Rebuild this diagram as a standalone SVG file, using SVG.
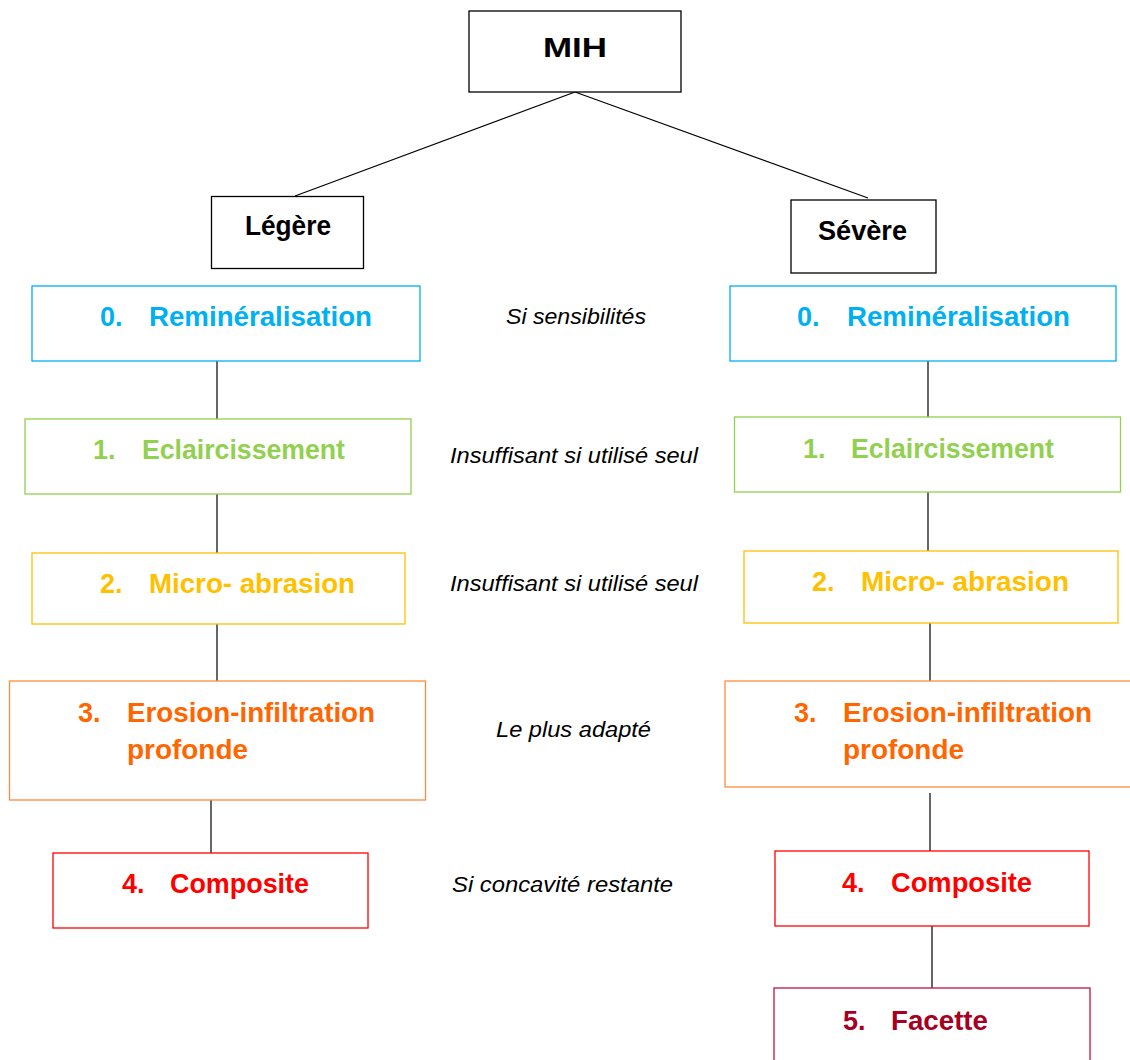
<svg xmlns="http://www.w3.org/2000/svg" width="1130" height="1060" viewBox="0 0 1130 1060">
  <style>
    .box { fill: #ffffff; stroke-width: 1.3; }
    .head { stroke: #000000; }
    .lbl { font-family: "Liberation Sans", Arial, sans-serif; font-weight: bold; font-size: 27px; }
    .big { font-size: 28px; }
    .note { font-family: "Liberation Sans", Arial, sans-serif; font-style: italic; font-size: 22px; fill: #000000; }
    .c0 { stroke: #00B0F0; } .t0 { fill: #00B0F0; }
    .c1 { stroke: #92D050; } .t1 { fill: #92D050; }
    .c2 { stroke: #FFC000; } .t2 { fill: #FFC000; }
    .c3 { stroke: #FF8C3C; } .t3 { fill: #FF6600; }
    .c4 { stroke: #FF0000; } .t4 { fill: #FF0000; }
    .c5 { stroke: #C0143C; } .t5 { fill: #A50021; }
    .link { stroke: #000000; stroke-width: 1.2; fill: none; }
  </style>
  <rect width="1130" height="1060" fill="#ffffff"/>

  <!-- connectors -->
  <g id="connectors">
    <line class="link" x1="575" y1="92" x2="295" y2="196"/>
    <line class="link" x1="575" y1="92" x2="868" y2="198"/>
    <line class="link" x1="217" y1="361" x2="217" y2="419"/>
    <line class="link" x1="217" y1="494" x2="217" y2="553"/>
    <line class="link" x1="217" y1="624" x2="217" y2="681"/>
    <line class="link" x1="211" y1="796" x2="211" y2="853"/>
    <line class="link" x1="928" y1="361" x2="928" y2="417"/>
    <line class="link" x1="928" y1="492" x2="928" y2="551"/>
    <line class="link" x1="930" y1="623" x2="930" y2="681"/>
    <line class="link" x1="930" y1="793" x2="930" y2="851"/>
    <line class="link" x1="932" y1="926" x2="932" y2="988"/>
  </g>

  <!-- top node -->
  <g id="mih">
    <rect class="box head" x="469" y="11" width="212" height="81"/>
    <text class="lbl" x="543" y="57" font-size="32" textLength="64" lengthAdjust="spacingAndGlyphs">MIH</text>
  </g>

  <!-- severity nodes -->
  <g id="legere">
    <rect class="box head" x="211.5" y="196.5" width="152" height="72"/>
    <text class="lbl big" x="245" y="235" textLength="86" lengthAdjust="spacingAndGlyphs">Légère</text>
  </g>
  <g id="severe">
    <rect class="box head" x="791" y="200" width="145" height="73"/>
    <text class="lbl big" x="818" y="240" textLength="89" lengthAdjust="spacingAndGlyphs">Sévère</text>
  </g>

  <!-- left column: mild -->
  <g id="l-remineralisation">
    <rect class="box c0" x="32" y="286" width="388" height="75"/>
    <text class="lbl t0" x="100" y="326">0.</text>
    <text class="lbl t0" x="149" y="326" textLength="223" lengthAdjust="spacingAndGlyphs">Reminéralisation</text>
  </g>
  <g id="l-eclaircissement">
    <rect class="box c1" x="25" y="419" width="386" height="75"/>
    <text class="lbl t1" x="93" y="459">1.</text>
    <text class="lbl t1" x="142" y="459" textLength="203" lengthAdjust="spacingAndGlyphs">Eclaircissement</text>
  </g>
  <g id="l-microabrasion">
    <rect class="box c2" x="32" y="553" width="373" height="71"/>
    <text class="lbl t2" x="100" y="593">2.</text>
    <text class="lbl t2" x="149" y="593" textLength="206" lengthAdjust="spacingAndGlyphs">Micro- abrasion</text>
  </g>
  <g id="l-erosion">
    <rect class="box c3" x="9.5" y="681" width="416" height="119"/>
    <text class="lbl t3" x="78" y="722">3.</text>
    <text class="lbl t3" x="127" y="722" textLength="248" lengthAdjust="spacingAndGlyphs">Erosion-infiltration</text>
    <text class="lbl t3" x="127" y="759" textLength="121" lengthAdjust="spacingAndGlyphs">profonde</text>
  </g>
  <g id="l-composite">
    <rect class="box c4" x="53" y="853" width="315" height="75"/>
    <text class="lbl t4" x="122" y="893">4.</text>
    <text class="lbl t4" x="170" y="893" textLength="139" lengthAdjust="spacingAndGlyphs">Composite</text>
  </g>

  <!-- right column: severe -->
  <g id="r-remineralisation">
    <rect class="box c0" x="730" y="286" width="386" height="75"/>
    <text class="lbl t0" x="797" y="326">0.</text>
    <text class="lbl t0" x="847" y="326" textLength="223" lengthAdjust="spacingAndGlyphs">Reminéralisation</text>
  </g>
  <g id="r-eclaircissement">
    <rect class="box c1" x="734.5" y="417" width="386" height="75"/>
    <text class="lbl t1" x="803" y="458">1.</text>
    <text class="lbl t1" x="851" y="458" textLength="203" lengthAdjust="spacingAndGlyphs">Eclaircissement</text>
  </g>
  <g id="r-microabrasion">
    <rect class="box c2" x="744" y="551" width="374" height="72"/>
    <text class="lbl t2" x="812" y="591">2.</text>
    <text class="lbl t2" x="861" y="591" textLength="208" lengthAdjust="spacingAndGlyphs">Micro- abrasion</text>
  </g>
  <g id="r-erosion">
    <rect class="box c3" x="725" y="681" width="415" height="106"/>
    <text class="lbl t3" x="794" y="722">3.</text>
    <text class="lbl t3" x="843" y="722" textLength="249" lengthAdjust="spacingAndGlyphs">Erosion-infiltration</text>
    <text class="lbl t3" x="843" y="759" textLength="121" lengthAdjust="spacingAndGlyphs">profonde</text>
  </g>
  <g id="r-composite">
    <rect class="box c4" x="775" y="851" width="314" height="75"/>
    <text class="lbl t4" x="842" y="892">4.</text>
    <text class="lbl t4" x="891" y="892" textLength="141" lengthAdjust="spacingAndGlyphs">Composite</text>
  </g>
  <g id="r-facette">
    <rect class="box c5" x="774" y="988" width="316" height="90"/>
    <text class="lbl t5" x="843" y="1030">5.</text>
    <text class="lbl t5" x="891" y="1030" textLength="97" lengthAdjust="spacingAndGlyphs">Facette</text>
  </g>

  <!-- middle annotations -->
  <g id="notes">
    <text class="note" x="506" y="324" textLength="140" lengthAdjust="spacingAndGlyphs">Si sensibilités</text>
    <text class="note" x="450" y="463" textLength="248" lengthAdjust="spacingAndGlyphs">Insuffisant si utilisé seul</text>
    <text class="note" x="450" y="591" textLength="248" lengthAdjust="spacingAndGlyphs">Insuffisant si utilisé seul</text>
    <text class="note" x="496" y="737" textLength="155" lengthAdjust="spacingAndGlyphs">Le plus adapté</text>
    <text class="note" x="452" y="892" textLength="221" lengthAdjust="spacingAndGlyphs">Si concavité restante</text>
  </g>
</svg>
